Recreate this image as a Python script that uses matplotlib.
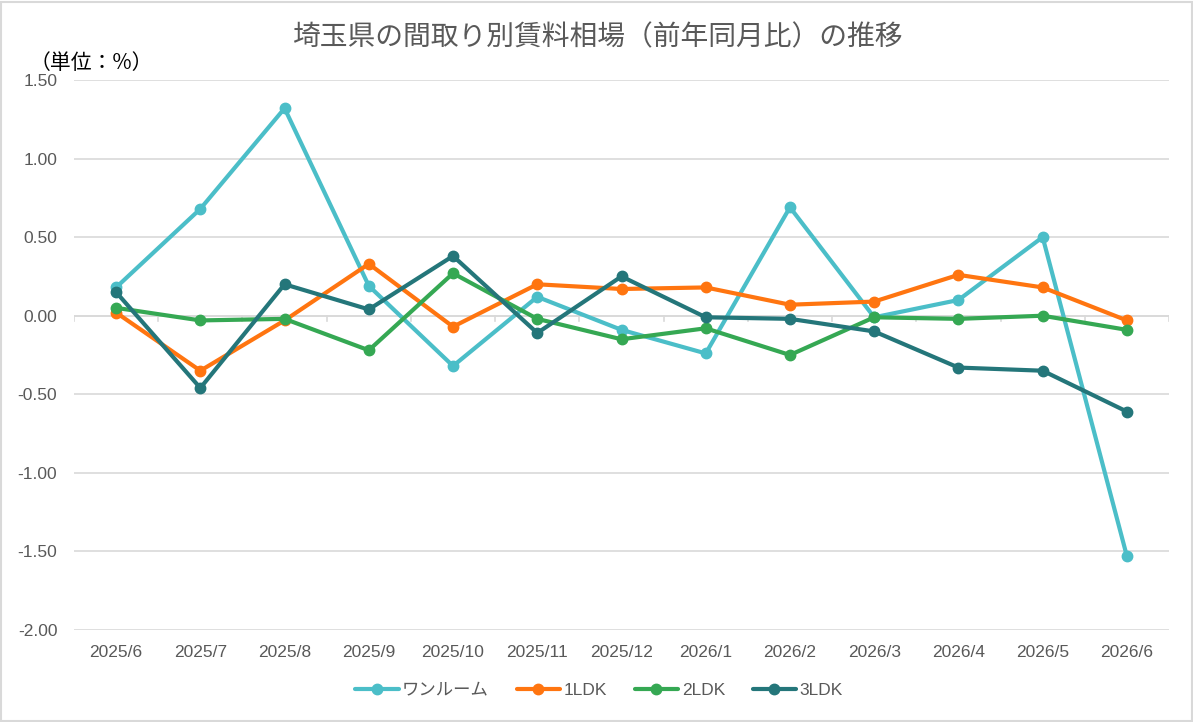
import matplotlib
matplotlib.use("Agg")
import matplotlib.pyplot as plt
from matplotlib.patches import Rectangle

plt.rcParams['font.family'] = ['Liberation Sans', 'Noto Sans CJK JP', 'DejaVu Sans']

months = ['2025/6', '2025/7', '2025/8', '2025/9', '2025/10', '2025/11', '2025/12',
          '2026/1', '2026/2', '2026/3', '2026/4', '2026/5', '2026/6']
one_room = [0.18, 0.68, 1.32, 0.19, -0.32, 0.12, -0.09, -0.24, 0.69, -0.01, 0.10, 0.50, -1.53]
ldk1 = [0.02, -0.35, -0.03, 0.33, -0.07, 0.20, 0.17, 0.18, 0.07, 0.09, 0.26, 0.18, -0.03]
ldk2 = [0.05, -0.03, -0.02, -0.22, 0.27, -0.02, -0.15, -0.08, -0.25, -0.01, -0.02, 0.00, -0.09]
ldk3 = [0.15, -0.46, 0.20, 0.04, 0.38, -0.11, 0.25, -0.01, -0.02, -0.10, -0.33, -0.35, -0.61]
series_names = ['ワンルーム', '1LDK', '2LDK', '3LDK']
colors = ['#4BBEC8', '#FF7510', '#35A853', '#24767A']
y_ticks = [1.5, 1.0, 0.5, 0.0, -0.5, -1.0, -1.5, -2.0]

W, H = 1193, 722
fig = plt.figure(figsize=(W / 100, H / 100), dpi=100)
ax = fig.add_axes([74 / W, 1 - 630 / H, (1169 - 74) / W, (630 - 80) / H])

# outer border
fig.patches.append(Rectangle((1 / W, 1 / H), 1 - 2.5 / W, 1 - 2.5 / H, transform=fig.transFigure,
                             fill=False, edgecolor='#D9D9D9', linewidth=1.5))

x = list(range(len(months)))
for vals, name, c in zip([one_room, ldk1, ldk2, ldk3], series_names, colors):
    ax.plot(x, vals, color=c, linewidth=3.0, marker='o', markersize=7.5, label=name,
            solid_capstyle='round', zorder=3)

ax.set_xlim(-0.5, len(months) - 0.5)
ax.set_ylim(-2.0, 1.5)
ax.set_yticks(y_ticks)
ax.set_yticklabels([f'{v:.2f}' for v in y_ticks])
ax.grid(axis='y', color='#D9D9D9', linewidth=1.2, zorder=0)
ax.set_axisbelow(True)
for s in ax.spines.values():
    s.set_visible(False)
ax.tick_params(axis='y', length=0, labelsize=12.5, labelcolor='#595959', pad=12)
ax.set_xticks(x)
ax.set_xticklabels(months)
ax.tick_params(axis='x', length=0, labelsize=12.5, labelcolor='#595959', pad=11)

# category axis line at zero with boundary ticks
ax.axhline(0, color='#D9D9D9', linewidth=1.2, zorder=1)
for b in range(len(months) + 1):
    ax.plot([b - 0.5, b - 0.5], [0, -0.035], color='#D9D9D9', linewidth=1.2, zorder=1)

fig.text(597 / W, 1 - 37 / H, '埼玉県の間取り別賃料相場（前年同月比）の推移', ha='center', va='center',
         fontsize=20, color='#595959', family=['Noto Sans CJK JP'])
fig.text(30 / W, 1 - 63 / H, '（単位：%）', ha='left', va='center', fontsize=15, color='black',
         family=['Noto Sans CJK JP'])

fig.legend(loc='center', bbox_to_anchor=(599 / W, 1 - 690 / H), ncol=4, frameon=False,
           fontsize=12.5, labelcolor='#595959', handlelength=2.5, columnspacing=1.6,
           handletextpad=0.2)

fig.savefig('out.png', dpi=100)
